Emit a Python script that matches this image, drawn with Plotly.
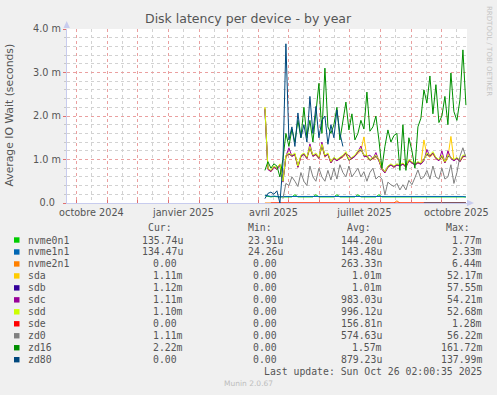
import plotly.graph_objects as go
import pandas as pd

# ---------------- data (values in milliseconds) ----------------
dates = pd.date_range("2025-04-07", periods=68, freq="3D")

names = ["nvme0n1", "nvme1n1", "nvme2n1", "sda", "sdb", "sdc", "sdd", "sde", "zd0", "zd16", "zd80"]
colors = ["#00CC00", "#0066B3", "#FF8000", "#FFCC00", "#330099", "#990099",
          "#CCFF00", "#FF0000", "#808080", "#008F00", "#00487D"]

nvme0n1 = [0.17, 0.15, 0.14, 0.15, 0.14, 0.14, 0.14, 0.14, 0.14, 0.14,
           0.19, 0.14, 0.14, 0.14, 0.14, 0.14, 0.14, 0.19, 0.14, 0.14,
           0.14, 0.14, 0.14, 0.14, 0.19, 0.14, 0.14, 0.14, 0.14, 0.14,
           0.14, 0.19, 0.14, 0.14, 0.14, 0.14, 0.14, 0.14, 0.19, 0.14,
           0.14, 0.14, 0.14, 0.14, 0.14, 0.14, 0.14, 0.14, 0.14, 0.14,
           0.14, 0.14, 0.14, 0.14, 0.14, 0.14, 0.14, 0.14, 0.14, 0.14,
           0.14, 0.14, 0.14, 0.14, 0.14, 0.14, 0.14, 0.14]
nvme1n1 = [0.18, 0.16, 0.15, 0.16, 0.15, 0.14, 0.15, 0.15, 0.16, 0.15,
           0.15, 0.15, 0.15, 0.16, 0.15, 0.15, 0.15, 0.15, 0.15, 0.15,
           0.15, 0.16, 0.15, 0.15, 0.15, 0.15, 0.15, 0.15, 0.15, 0.15,
           0.15, 0.15, 0.15, 0.15, 0.15, 0.15, 0.15, 0.15, 0.15, 0.15,
           0.15, 0.15, 0.15, 0.15, 0.15, 0.15, 0.15, 0.15, 0.15, 0.15,
           0.15, 0.15, 0.15, 0.15, 0.15, 0.15, 0.15, 0.15, 0.15, 0.15,
           0.15, 0.15, 0.15, 0.15, 0.15, 0.15, 0.15, 0.14]
nvme2n1 = [0, 0, 0, 0, 0, 0, 0, 0, 0, 0,
           0, 0, 0, 0, 0, 0, 0, 0, 0, 0,
           0, 0, 0, 0, 0, 0, 0, 0, 0, 0,
           0, 0, 0, 0, 0, 0, 0, 0, 0, 0,
           0, 0, 0, 0, 0.05, 0, 0, 0, 0, 0,
           0, 0, 0, 0, 0, 0, 0, 0, 0, 0,
           0, 0, 0, 0, 0, 0, 0, 0]
sda = [2.2, 0.78, 0.72, 0.82, 0.78, 0.88, 0.5, 1.05, 1.12, 1.08,
       1.1, 0.82, 1.05, 1.12, 1.02, 1.25, 1.08, 1.1, 1.02, 1.3,
       1.05, 1.12, 0.92, 1.02, 0.98, 1.02, 1.05, 1.12, 0.98, 1.02,
       1.08, 1.15, 1.2, 1.52, 1.05, 0.98, 1.02, 1.05, 0.98, 0.78,
       0.7, 0.82, 0.88, 0.82, 0.88, 0.85, 0.9, 0.82, 0.98, 0.92,
       0.88, 0.92, 0.9, 1.45, 1.1, 1.05, 1.12, 1.02, 0.98, 1.05,
       0.92, 1.05, 1.53, 0.98, 1.02, 0.95, 1.05, 1.08]
sdb = [2.15, 0.8, 0.74, 0.84, 0.8, 0.88, 0.5, 1.08, 1.13, 1.08,
       1.12, 0.84, 1.08, 1.13, 1.04, 1.28, 1.08, 1.12, 1.04, 1.32,
       1.08, 1.12, 0.94, 1.04, 0.98, 1.04, 1.08, 1.15, 0.98, 1.04,
       1.08, 1.18, 1.22, 1.1, 1.08, 0.98, 1.04, 1.08, 0.98, 0.8,
       0.72, 0.84, 0.88, 0.84, 0.88, 0.86, 0.9, 0.84, 0.98, 0.94,
       0.88, 0.94, 0.9, 1.0, 1.12, 1.08, 1.15, 1.04, 0.98, 1.08,
       0.94, 1.08, 1.05, 0.98, 1.04, 0.96, 1.08, 1.08]
sdc = [2.17, 0.77, 0.72, 0.82, 0.77, 0.87, 0.48, 1.07, 1.27, 1.07,
       1.12, 0.82, 1.07, 1.12, 1.02, 1.36, 1.07, 1.12, 1.02, 1.4,
       1.07, 1.12, 0.92, 1.02, 0.97, 1.02, 1.07, 1.15, 1.08, 1.02,
       1.07, 1.17, 1.31, 1.07, 1.07, 1.1, 1.02, 1.16, 0.97, 0.77,
       0.69, 0.82, 0.87, 0.82, 0.87, 0.85, 0.89, 0.82, 0.97, 0.92,
       0.87, 0.92, 0.89, 0.97, 1.23, 1.07, 1.15, 1.02, 0.97, 1.2,
       0.92, 1.2, 1.02, 0.97, 1.02, 0.95, 1.07, 1.07]
sdd = [2.2, 0.8, 0.75, 0.85, 0.8, 0.9, 0.5, 1.1, 1.15, 1.1,
       1.15, 0.85, 1.1, 1.15, 1.05, 1.3, 1.1, 1.15, 1.05, 1.35,
       1.1, 1.15, 0.95, 1.05, 1.0, 1.05, 1.1, 1.18, 1.0, 1.05,
       1.1, 1.2, 1.25, 1.1, 1.1, 1.0, 1.05, 1.1, 1.0, 0.8,
       0.72, 0.85, 0.9, 0.85, 0.9, 0.88, 0.92, 0.85, 1.0, 0.95,
       0.9, 0.95, 0.92, 1.0, 1.15, 1.1, 1.18, 1.05, 1.0, 1.1,
       0.95, 1.1, 1.05, 1.0, 1.05, 0.98, 1.1, 1.1]
sde = [None, None, 0, 0, 0, 0, 0, 0, 0, 0,
       0, 0, 0, 0, 0, 0, 0, 0, 0, 0,
       0, 0, 0, 0, 0, 0, 0, 0, 0, 0,
       0, 0, 0, 0, 0, 0, 0, 0, 0, 0,
       0, 0, 0, 0, 0, 0, 0, 0, 0, 0,
       0, 0, 0, 0, 0, 0, 0, 0, 0, 0,
       0, 0, 0, 0, 0, 0, 0, 0]
zd0 = [None, None, None, None, None, None, 0.1, 0.45, 0.4, 0.6,
       0.5, 0.38, 0.7, 0.5, 0.4, 0.85, 0.6, 0.5, 0.8, 0.6,
       0.5, 0.75, 0.53, 0.8, 0.55, 0.88, 0.7, 0.6, 0.85, 0.6,
       0.7, 0.8, 0.6, 0.72, 0.5, 0.7, 0.8, 0.55, 0.62, 0.55,
       0.19, 0.48, 0.42, 0.38, 0.45, 0.3, 0.42, 0.3, 0.52, 0.42,
       0.58, 0.76, 0.55, 0.6, 0.75, 0.55, 0.85, 0.6, 0.55, 0.8,
       0.55, 0.6, 0.88, 0.45, 0.7, 1.07, 1.27, 1.05]
zd16 = [0.75, 0.95, 0.8, 0.9, 0.85, 0.6, 1.0, 1.6, 1.3, 1.7,
        1.4, 1.9, 1.5, 2.2, 1.5, 1.9, 1.4, 2.1, 2.75, 1.6,
        3.1, 1.75, 1.6, 1.8, 2.2, 1.45, 1.9, 2.32, 1.68, 2.05,
        1.45, 1.6, 1.9, 1.7, 2.55, 1.65, 1.75, 2.0, 1.45, 0.8,
        1.3, 1.68, 1.4, 1.55, 1.6, 0.75, 1.8, 0.75, 1.5, 1.2,
        0.8, 1.75, 1.95, 2.6, 2.3, 2.92, 2.05, 2.72, 1.85, 2.0,
        2.45, 1.8, 2.99, 2.1, 1.9, 2.37, 3.52, 2.25]
zd80 = [0.1, 0.22, 0.25, 0.2, 0.28, 0.0, 0.9, 3.66, 1.45, 1.75,
        1.3, 2.07, 1.5, 1.8, 1.4, 2.45, 1.6, 2.22, 1.5, 1.9,
        2.0, 1.35, 1.8, 1.5, 2.14, 1.6, 1.3, None, None, None,
        None, None, None, None, None, None, None, None, None, None,
        None, None, None, None, None, None, None, None, None, None,
        None, None, None, 0, 0, 0, 0, 0, 0, 0,
        0, 0, 0, 0, 0, 0, 0, 0]

series = [nvme0n1, nvme1n1, nvme2n1, sda, sdb, sdc, sdd, sde, zd0, zd16, zd80]

cur_vals = ["135.74u", "134.47u", "0.00", "1.11m", "1.12m", "1.11m", "1.10m", "0.00", "1.11m", "2.22m", "0.00"]
min_vals = ["23.91u", "24.26u", "0.00", "0.00", "0.00", "0.00", "0.00", "0.00", "0.00", "0.00", "0.00"]
avg_vals = ["144.20u", "143.48u", "263.33n", "1.01m", "1.01m", "983.03u", "996.12u", "156.81n", "574.63u", "1.57m", "879.23u"]
max_vals = ["1.77m", "2.33m", "6.44m", "52.17m", "57.55m", "54.21m", "52.68m", "1.28m", "56.22m", "161.72m", "137.99m"]

y_tick_vals = [0, 0.001, 0.002, 0.003, 0.004]
y_tick_text = ["0.0\u00a0\u00a0", "1.0 m", "2.0 m", "3.0 m", "4.0 m"]

x_label_dates = pd.date_range("2024-10-01", periods=13, freq="MS") + pd.Timedelta(days=14, hours=12)
x_label_text = ["octobre 2024", "", "", "janvier 2025", "", "", "avril 2025", "", "",
                "juillet 2025", "", "", "octobre 2025"]
month_starts = pd.date_range("2024-10-01", "2025-10-01", freq="MS")

x_start = "2024-09-21 02:00"
x_end = "2025-10-26 02:00"

# ---------------- layout geometry ----------------
W, H = 497, 395
L, R, T, B = 67, 30, 29, 192
PW, PH = W - L - R, H - T - B


def px(x):
    return (x - L) / PW


def py(y):
    return (T + PH - y) / PH


TXT = "#555555"
MONO = "DejaVu Sans Mono"
SANS = "DejaVu Sans"

fig = go.Figure()
for name, color, vals in zip(names, colors, series):
    fig.add_trace(go.Scatter(
        x=dates, y=[None if v is None else v / 1000 for v in vals],
        mode="lines", name=name, line=dict(color=color, width=1),
        connectgaps=False, hoverinfo="skip", showlegend=False))

fig.update_layout(
    width=W, height=H, autosize=False,
    margin=dict(l=L, r=R, t=T, b=B, pad=0),
    paper_bgcolor="#F0F0F0", plot_bgcolor="#FFFFFF",
    font=dict(family=SANS, color=TXT, size=10),
    showlegend=False,
)

fig.update_xaxes(
    type="date", range=[x_start, x_end], fixedrange=True, automargin=False,
    tickmode="array", tickvals=x_label_dates, ticktext=x_label_text,
    tickfont=dict(family=SANS, size=9.7, color=TXT),
    ticks="", showgrid=True, gridcolor="#D2D2D2", griddash="dot", gridwidth=1,
    minor=dict(tickmode="array", tickvals=month_starts, showgrid=True,
               gridcolor="#EAA0A0", griddash="dot", gridwidth=1,
               ticks="inside", ticklen=3, tickcolor="#E07070"),
    showline=True, linecolor="#C8CCEE", linewidth=1, zeroline=False,
)
fig.update_yaxes(
    range=[0, 0.004], fixedrange=True, automargin=False,
    tickmode="array", tickvals=y_tick_vals, ticktext=y_tick_text,
    tickfont=dict(family=SANS, size=9.7, color=TXT),
    ticks="outside", ticklen=3, tickcolor="#E07070",
    showgrid=True, gridcolor="#EAA0A0", griddash="dot", gridwidth=1,
    minor=dict(dtick=0.0002, tick0=0, showgrid=True, gridcolor="#D2D2D2",
               griddash="dot", gridwidth=1, ticks="outside", ticklen=2, tickcolor="#C8C8C8"),
    showline=True, linecolor="#C8CCEE", linewidth=1, zeroline=False,
)

ann = []
shapes = []


def text(x, y, s, anchor="left", size=9.8, family=MONO, color=TXT, angle=0, yanchor="middle"):
    ann.append(dict(xref="paper", yref="paper", x=px(x), y=py(y), text=s, showarrow=False,
                    xanchor=anchor, yanchor=yanchor, textangle=angle, borderpad=0,
                    font=dict(family=family, size=size, color=color)))


# title and axis title
text(248.5, 19, "Disk latency per device - by year", anchor="center", size=12.5, family=SANS)
text(9.5, 115, "Average IO Wait (seconds)", anchor="center", size=10.8, family=SANS, angle=-90)
text(489, 5, "RRDTOOL / TOBI OETIKER", anchor="center", size=7, family=SANS,
     color="#C4C4C4", angle=90, yanchor="top")

# axis arrows
shapes.append(dict(type="path", xref="paper", yref="paper",
                   path=f"M {px(66.7)} {py(21)} L {px(63.5)} {py(28)} L {px(69.9)} {py(28)} Z",
                   fillcolor="#C8CCEE", line=dict(width=0)))
shapes.append(dict(type="path", xref="paper", yref="paper",
                   path=f"M {px(474)} {py(203)} L {px(467)} {py(199.8)} L {px(467)} {py(206.2)} Z",
                   fillcolor="#C8CCEE", line=dict(width=0)))

# legend table
col_edges = [184.3, 284.3, 383.3, 483]
headers = ["Cur:", "Min:", "Avg:", "Max:"]
for edge, hd in zip(col_edges, headers):
    text(edge - 11.8, 227.7, hd, anchor="right")


def fmt(v):
    return v if v[-1].isalpha() else v + "\u00a0"


for k, (nm, col) in enumerate(zip(names, colors)):
    yc = 240 + 11.97 * k
    shapes.append(dict(type="rect", xref="paper", yref="paper",
                       x0=px(14), x1=px(19.5), y0=py(yc - 2.7), y1=py(yc + 2.7),
                       fillcolor=col, line=dict(width=0)))
    text(26.7, yc, nm)
    for edge, vals in zip(col_edges, [cur_vals, min_vals, avg_vals, max_vals]):
        text(edge, yc, fmt(vals[k]), anchor="right")

text(483, 371.7, "Last update: Sun Oct 26 02:00:35 2025", anchor="right")
text(248, 383.3, "Munin 2.0.67", anchor="center", size=7.5, family=SANS, color="#BDBDBD")

fig.update_layout(annotations=ann, shapes=shapes)

fig.write_html("out.html", config={"displayModeBar": False},
               post_script="document.body.style.margin='0';document.body.style.padding='0';")
